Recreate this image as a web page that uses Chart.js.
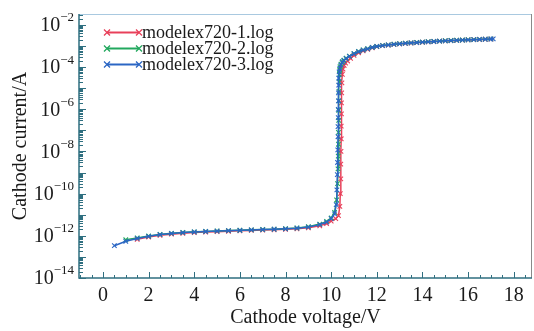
<!DOCTYPE html>
<html>
<head>
<meta charset="utf-8">
<script src="https://cdn.jsdelivr.net/npm/chart.js@4.4.1/dist/chart.umd.min.js"></script>
<style>
html, body { margin: 0; padding: 0; background: #fff; }
canvas { display: block; }
</style>
</head>
<body>
<canvas id="chart" width="534" height="331"></canvas>
<script>
// modelex720-1.log
const voltage1 = [1.5, 2.0, 2.5, 3.0, 3.5, 4.0, 4.5, 5.0, 5.5, 6.0, 6.5, 7.0, 7.5, 8.0, 8.5, 9.0, 9.5, 9.8, 10.0, 10.2,
    10.32, 10.38, 10.4, 10.42, 10.42, 10.43, 10.44, 10.44, 10.45, 10.45, 10.46, 10.47, 10.49, 10.52, 10.57, 10.63, 10.72, 10.85,
    11.0, 11.2, 11.4, 11.6, 11.8, 12.0, 12.25, 12.5, 12.75, 13.0, 13.25, 13.5, 13.75, 14.0, 14.25, 14.5, 14.75, 15.0,
    15.25, 15.5, 15.75, 16.0, 16.25, 16.5, 16.75, 17.0];
const current1 = [6.8e-13, 8.8e-13, 1.05e-12, 1.2e-12, 1.32e-12, 1.42e-12, 1.5e-12, 1.58e-12, 1.65e-12, 1.72e-12, 1.8e-12, 1.87e-12, 1.94e-12, 2.03e-12, 2.15e-12, 2.4e-12, 3.0e-12, 3.8e-12, 5e-12, 6.5e-12,
    9e-12, 2.5e-11, 1e-10, 5e-10, 2.5e-9, 1e-8, 4e-8, 1.6e-7, 6e-7, 2e-6, 6e-6, 1.8e-5, 4.5e-5, 8e-5, 1.2e-4, 1.55e-4, 1.95e-4, 2.6e-4,
    3.6e-4, 4.8e-4, 5.9e-4, 7e-4, 8.2e-4, 9.3e-4, 1.04e-3, 1.11e-3, 1.19e-3, 1.26e-3, 1.33e-3, 1.39e-3, 1.45e-3, 1.51e-3, 1.57e-3, 1.63e-3, 1.69e-3, 1.75e-3,
    1.8e-3, 1.85e-3, 1.9e-3, 1.95e-3, 2.0e-3, 2.04e-3, 2.09e-3, 2.14e-3];

// modelex720-2.log
const voltage2 = [1.0, 1.5, 2.0, 2.5, 3.0, 3.5, 4.0, 4.5, 5.0, 5.5, 6.0, 6.5, 7.0, 7.5, 8.0, 8.5, 9.0, 9.5, 9.8, 10.0,
    10.15, 10.24, 10.28, 10.3, 10.31, 10.32, 10.32, 10.33, 10.33, 10.34, 10.34, 10.35, 10.36, 10.37, 10.39, 10.43, 10.49, 10.56, 10.66, 10.8,
    11.0, 11.2, 11.4, 11.6, 11.8, 12.0, 12.25, 12.5, 12.75, 13.0, 13.25, 13.5, 13.75, 14.0, 14.25, 14.5, 14.75, 15.0,
    15.25, 15.5, 15.75, 16.0, 16.25, 16.5, 16.75, 17.0];
const current2 = [6.5e-13, 8e-13, 9.8e-13, 1.17e-12, 1.32e-12, 1.44e-12, 1.54e-12, 1.62e-12, 1.7e-12, 1.77e-12, 1.84e-12, 1.92e-12, 1.99e-12, 2.07e-12, 2.18e-12, 2.35e-12, 2.7e-12, 3.6e-12, 4.8e-12, 7e-12,
    1.3e-11, 5e-11, 3e-10, 1.5e-9, 6e-9, 2.2e-8, 8e-8, 3e-7, 9e-7, 2.5e-6, 7e-6, 2e-5, 4.5e-5, 7.5e-5, 1.05e-4, 1.4e-4, 1.8e-4, 2.15e-4, 2.65e-4, 3.35e-4,
    4.4e-4, 5.5e-4, 6.5e-4, 7.5e-4, 8.7e-4, 9.7e-4, 1.07e-3, 1.14e-3, 1.22e-3, 1.29e-3, 1.36e-3, 1.42e-3, 1.48e-3, 1.54e-3, 1.6e-3, 1.66e-3, 1.72e-3, 1.78e-3,
    1.83e-3, 1.88e-3, 1.93e-3, 1.98e-3, 2.02e-3, 2.07e-3, 2.12e-3, 2.17e-3];

// modelex720-3.log
const voltage3 = [0.5, 1.0, 1.5, 2.0, 2.5, 3.0, 3.5, 4.0, 4.5, 5.0, 5.5, 6.0, 6.5, 7.0, 7.5, 8.0, 8.5, 9.0, 9.5, 9.8, 10.0,
    10.15, 10.22, 10.25, 10.27, 10.28, 10.29, 10.3, 10.3, 10.31, 10.31, 10.32, 10.32, 10.33, 10.33, 10.35, 10.38, 10.42, 10.48, 10.55, 10.65, 10.8,
    11.0, 11.2, 11.4, 11.6, 11.8, 12.0, 12.25, 12.5, 12.75, 13.0, 13.25, 13.5, 13.75, 14.0, 14.25, 14.5, 14.75, 15.0,
    15.25, 15.5, 15.75, 16.0, 16.25, 16.5, 16.75, 17.0, 17.1];
const current3 = [3.4e-13, 5.5e-13, 7.5e-13, 9.5e-13, 1.15e-12, 1.3e-12, 1.42e-12, 1.52e-12, 1.6e-12, 1.68e-12, 1.75e-12, 1.82e-12, 1.9e-12, 1.97e-12, 2.05e-12, 2.15e-12, 2.3e-12, 2.6e-12, 3.4e-12, 4.5e-12, 6.5e-12,
    1.1e-11, 3e-11, 1.5e-10, 8e-10, 3e-9, 1.2e-8, 5e-8, 1.5e-7, 4e-7, 1e-6, 2.5e-6, 6e-6, 1.4e-5, 3e-5, 6e-5, 9e-5, 1.25e-4, 1.65e-4, 2.0e-4, 2.5e-4, 3.2e-4,
    4.3e-4, 5.4e-4, 6.4e-4, 7.4e-4, 8.6e-4, 9.6e-4, 1.05e-3, 1.12e-3, 1.2e-3, 1.27e-3, 1.34e-3, 1.4e-3, 1.46e-3, 1.52e-3, 1.58e-3, 1.64e-3, 1.7e-3, 1.76e-3,
    1.81e-3, 1.86e-3, 1.91e-3, 1.96e-3, 2.0e-3, 2.05e-3, 2.1e-3, 2.15e-3, 2.18e-3];

const seriesNames = ["modelex720-1.log", "modelex720-2.log", "modelex720-3.log"];
const seriesColors = ["#e8405a", "#22a85e", "#2b66c4"];
const xTickValues = [0, 2, 4, 6, 8, 10, 12, 14, 16, 18];
const yTickExponents = [-14, -12, -10, -8, -6, -4, -2];

const X_MIN = -1.05, X_MAX = 18.8;
const Y_MIN = 1e-14, Y_MAX = 0.033;
const AXIS_COLOR = "#2f6f80";
const SERIF = "'Liberation Serif', 'DejaVu Serif', serif";

function toPoints(xs, ys) {
    return xs.map((x, i) => ({ x: x, y: ys[i] }));
}

function drawCross(ctx, x, y, r) {
    ctx.beginPath();
    ctx.moveTo(x - r, y - r); ctx.lineTo(x + r, y + r);
    ctx.moveTo(x + r, y - r); ctx.lineTo(x - r, y + r);
    ctx.stroke();
}

// Akser, ticks, labels og legend tegnes selv
const axesPlugin = {
    id: "axesPlugin",
    afterDatasetsDraw(chart) {
        const ctx = chart.ctx;
        const area = chart.chartArea;
        const xs = chart.scales.x;
        const ys = chart.scales.y;
        ctx.save();

        // ramme
        ctx.lineWidth = 1;
        ctx.strokeStyle = "#a9c9e0";
        ctx.beginPath(); ctx.moveTo(area.left, area.top + 0.5); ctx.lineTo(area.right, area.top + 0.5); ctx.stroke();
        ctx.strokeStyle = "#8a8a8a";
        ctx.beginPath(); ctx.moveTo(area.right - 0.5, area.top); ctx.lineTo(area.right - 0.5, area.bottom); ctx.stroke();
        ctx.strokeStyle = AXIS_COLOR;
        ctx.lineWidth = 1.5;
        ctx.beginPath();
        ctx.moveTo(area.left, area.top); ctx.lineTo(area.left, area.bottom); ctx.lineTo(area.right, area.bottom);
        ctx.stroke();

        // x ticks (ind i plottet)
        ctx.lineWidth = 1;
        for (let v = -1; v <= 18.5; v += 0.5) {
            const px = Math.round(xs.getPixelForValue(v)) + 0.5;
            const len = (v % 2 === 0) ? 6 : 3;
            ctx.beginPath(); ctx.moveTo(px, area.bottom); ctx.lineTo(px, area.bottom - len); ctx.stroke();
        }
        // y ticks (log, minor 2..9)
        for (let e = -14; e <= -2; e++) {
            for (let m = 1; m <= 9; m++) {
                const val = m * Math.pow(10, e);
                if (val > Y_MAX) continue;
                const py = Math.round(ys.getPixelForValue(val)) + 0.5;
                const len = m === 1 ? 7 : 4;
                ctx.beginPath(); ctx.moveTo(area.left, py); ctx.lineTo(area.left + len, py); ctx.stroke();
            }
        }

        // x tick labels
        ctx.fillStyle = "#1a1a1a";
        ctx.font = "20px " + SERIF;
        ctx.textAlign = "center";
        ctx.textBaseline = "middle";
        xTickValues.forEach(v => {
            ctx.fillText(String(v), xs.getPixelForValue(v), area.bottom + 18);
        });

        // y tick labels med eksponent
        yTickExponents.forEach(e => {
            const py = ys.getPixelForValue(Math.pow(10, e));
            const expText = "\u2212" + Math.abs(e);
            ctx.font = "13px " + SERIF;
            const expW = ctx.measureText(expText).width;
            ctx.textAlign = "left";
            ctx.textBaseline = "middle";
            const right = area.left - 5;
            ctx.fillText(expText, right - expW, py - 7);
            ctx.font = "20px " + SERIF;
            ctx.textAlign = "right";
            ctx.fillText("10", right - expW, py + 1);
        });

        // aksetitler
        ctx.font = "20px " + SERIF;
        ctx.textAlign = "center";
        ctx.textBaseline = "middle";
        ctx.fillText("Cathode voltage/V", (area.left + area.right) / 2, area.bottom + 40);
        ctx.save();
        ctx.translate(21, (area.top + area.bottom) / 2);
        ctx.rotate(-Math.PI / 2);
        ctx.fillText("Cathode current/A", 0, 0);
        ctx.restore();

        // legend
        ctx.font = "18px " + SERIF;
        ctx.textAlign = "left";
        ctx.textBaseline = "middle";
        seriesNames.forEach((name, i) => {
            const y = 32.5 + i * 16;
            ctx.strokeStyle = seriesColors[i];
            ctx.lineWidth = 2;
            ctx.beginPath(); ctx.moveTo(107, y); ctx.lineTo(139, y); ctx.stroke();
            ctx.lineWidth = 1.3;
            drawCross(ctx, 107, y, 3);
            drawCross(ctx, 139, y, 3);
            ctx.fillStyle = "#1a1a1a";
            ctx.fillText(name, 142, y + 1);
        });

        ctx.restore();
    }
};

const allVoltages = [voltage1, voltage2, voltage3];
const allCurrents = [current1, current2, current3];

new Chart(document.getElementById("chart").getContext("2d"), {
    type: "line",
    data: {
        datasets: seriesNames.map((name, i) => ({
            label: name,
            data: toPoints(allVoltages[i], allCurrents[i]),
            borderColor: seriesColors[i],
            backgroundColor: seriesColors[i],
            borderWidth: 1.5,
            pointStyle: "crossRot",
            pointRadius: 3.2,
            pointBorderWidth: 1.1,
            pointBorderColor: seriesColors[i],
            tension: 0,
            order: 3 - i
        }))
    },
    options: {
        responsive: false,
        animation: false,
        devicePixelRatio: 1,
        layout: { autoPadding: false, padding: { left: 79, right: 2, top: 14, bottom: 53 } },
        plugins: { legend: { display: false }, tooltip: { enabled: false } },
        scales: {
            x: { type: "linear", min: X_MIN, max: X_MAX, display: false },
            y: { type: "logarithmic", min: Y_MIN, max: Y_MAX, display: false }
        }
    },
    plugins: [axesPlugin]
});
</script>
</body>
</html>
